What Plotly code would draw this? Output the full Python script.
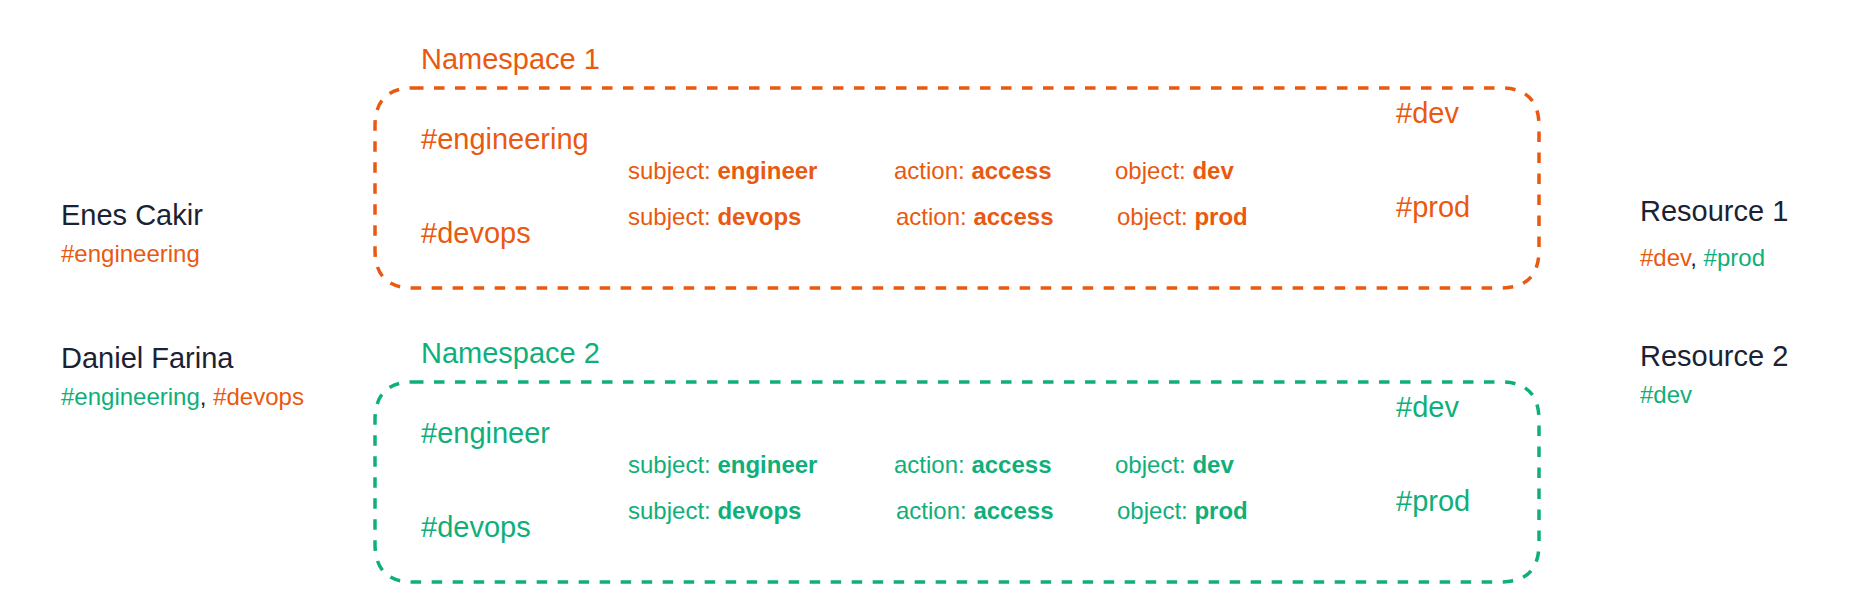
import plotly.graph_objects as go

ORANGE = "#E9590F"
GREEN = "#0FAF7A"
DARK = "#1B2233"
FONT = "Liberation Sans, Arial, Helvetica, sans-serif"

namespaces = ["Namespace 1", "Namespace 2"]
ns_colors = [ORANGE, GREEN]
ns_subjects = [["#engineering", "#devops"], ["#engineer", "#devops"]]
ns_objects = ["#dev", "#prod"]
rule_subjects = ["engineer", "devops"]
rule_actions = ["access", "access"]
rule_objects = ["dev", "prod"]

users = ["Enes Cakir", "Daniel Farina"]
user_tags = [[("#engineering", ORANGE)], [("#engineering", GREEN), ("#devops", ORANGE)]]
resources = ["Resource 1", "Resource 2"]
resource_tags = [[("#dev", ORANGE), ("#prod", GREEN)], [("#dev", GREEN)]]

# layout in pixel space
box_top = [80, 374]
box_h = 200
box_x0, box_x1, r = 367, 1531, 38

fig = go.Figure()
fig.add_trace(go.Scatter(x=[0, 1875], y=[0, 609], mode="markers", marker=dict(opacity=0), hoverinfo="skip"))

def tag_text(tags):
    return ", ".join(f"<span style='color:{c}'>{t}</span>" for t, c in tags)

def txt(x, y, s, color, size, anchor="left"):
    fig.add_annotation(x=x, y=y, text=s, showarrow=False, xanchor=anchor, yanchor="middle",
                       font=dict(family=FONT, size=size, color=color))

for i, ns in enumerate(namespaces):
    c = ns_colors[i]
    y0 = box_top[i]
    y1 = y0 + box_h
    path = (f"M {box_x0 + r},{y0} L {box_x1 - r},{y0} Q {box_x1},{y0} {box_x1},{y0 + r} "
            f"L {box_x1},{y1 - r} Q {box_x1},{y1} {box_x1 - r},{y1} L {box_x0 + r},{y1} "
            f"Q {box_x0},{y1} {box_x0},{y1 - r} L {box_x0},{y0 + r} Q {box_x0},{y0} {box_x0 + r},{y0} Z")
    fig.add_shape(type="path", path=path, line=dict(color=c, width=3.5, dash="dash"))
    txt(411, y0 - 29, ns, c, 29)
    txt(411, y0 + 51, ns_subjects[i][0], c, 29)
    txt(411, y0 + 145, ns_subjects[i][1], c, 29)
    txt(1386, y0 + 25, ns_objects[0], c, 29)
    txt(1386, y0 + 119, ns_objects[1], c, 29)
    for j in range(2):
        yy = y0 + 82 + j * 46
        txt(618, yy, f"subject: <b>{rule_subjects[j]}</b>", c, 24)
        txt(884 + 2 * j, yy, f"action: <b>{rule_actions[j]}</b>", c, 24)
        txt(1105 + 2 * j, yy, f"object: <b>{rule_objects[j]}</b>", c, 24)

user_y = [207, 350]
for i, u in enumerate(users):
    txt(51, user_y[i], u, DARK, 29)
    txt(51, user_y[i] + 38, tag_text(user_tags[i]), DARK, 24)

res_y = [203, 348]
for i, rname in enumerate(resources):
    txt(1630, res_y[i], rname, DARK, 29)
    txt(1630, res_y[i] + 46 - 8 * i, tag_text(resource_tags[i]), DARK, 24)

fig.update_layout(width=1875, height=609, margin=dict(l=0, r=0, t=0, b=0),
                  plot_bgcolor="white", paper_bgcolor="white", showlegend=False,
                  xaxis=dict(range=[0, 1875], visible=False, fixedrange=True),
                  yaxis=dict(range=[609, 0], visible=False, fixedrange=True))
fig.write_html("out.html")
